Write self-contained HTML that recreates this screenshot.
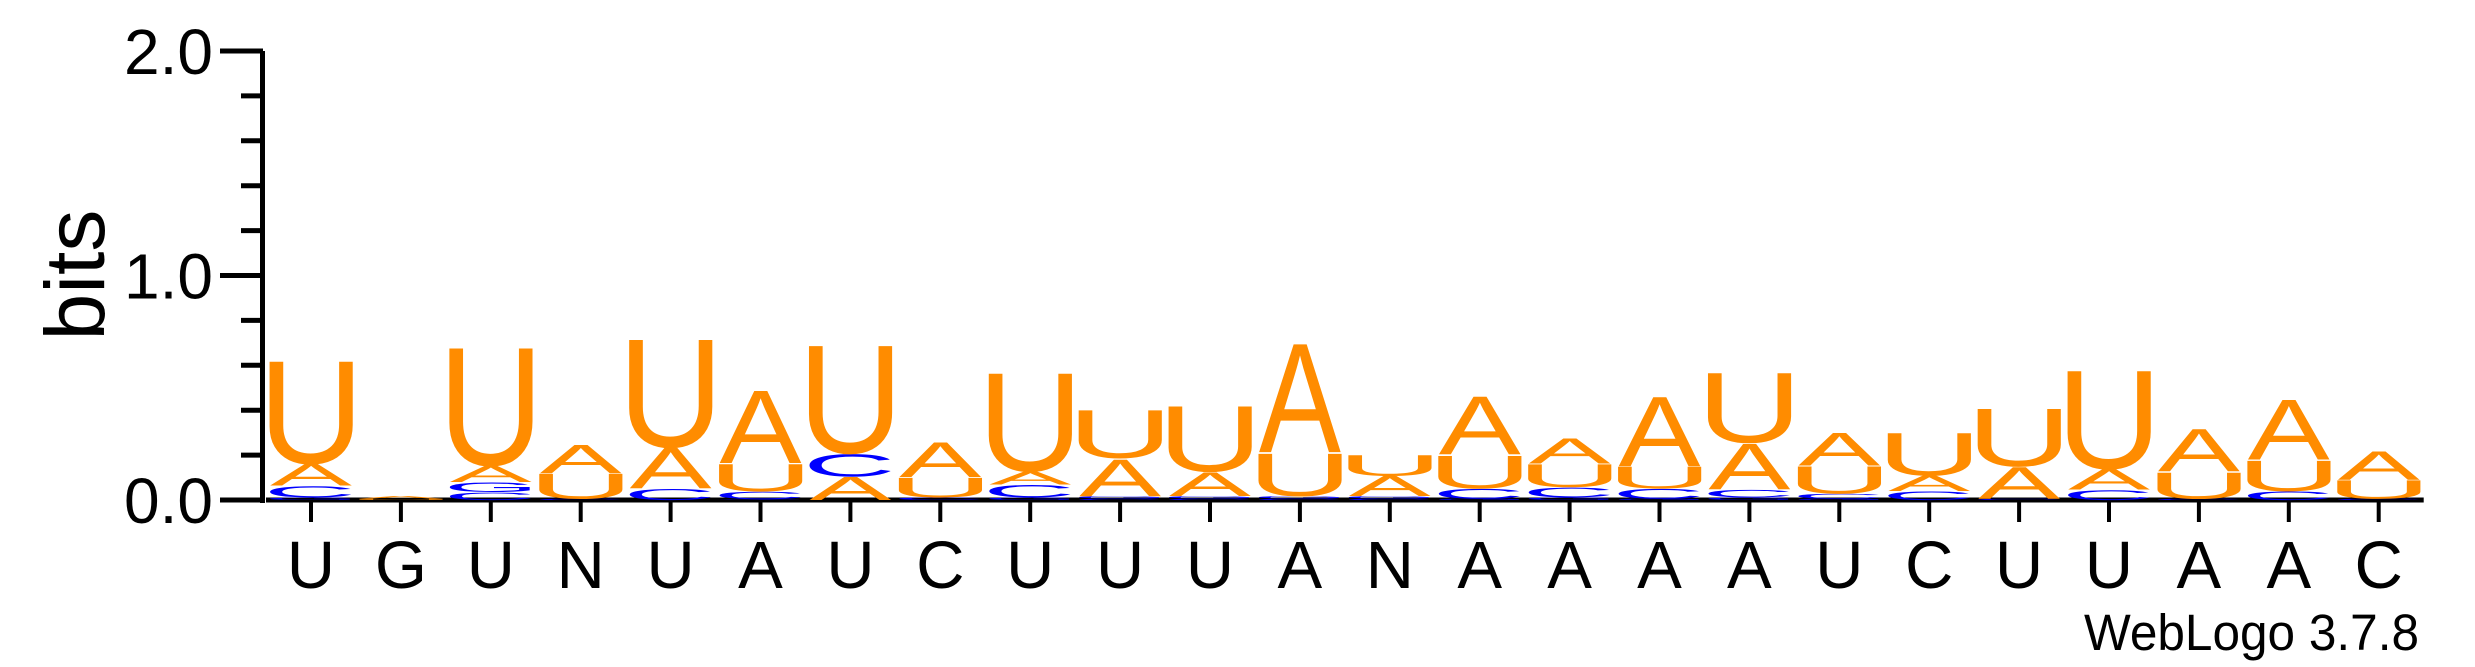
<!DOCTYPE html>
<html><head><meta charset="utf-8"><style>
html,body{margin:0;padding:0;background:#fff;}
svg{display:block;}
text{font-family:"Liberation Sans",sans-serif;}
</style></head><body>
<svg id="logo" width="2475" height="667" viewBox="0 0 2475 667" xmlns="http://www.w3.org/2000/svg">
<g id="axes"></g>
<g id="stacks"></g>
<text x="0" y="0" font-size="84" transform="translate(104,275) rotate(-90)" text-anchor="middle">bits</text>
<text x="2419" y="650" font-size="51" text-anchor="end" textLength="335" lengthAdjust="spacingAndGlyphs">WebLogo 3.7.8</text>
</svg>
<script>
const positions = ["U","G","U","N","U","A","U","C","U","U","U","A","N","A","A","A","A","U","C","U","U","A","A","C"];
const bitsA = [0.10,0.012,0.075,0.13,0.185,0.335,0.105,0.16,0.06,0.17,0.11,0.50,0.09,0.265,0.115,0.32,0.21,0.15,0.07,0.145,0.095,0.195,0.275,0.13];
const bitsC = [0.052,0,0.035,0.006,0.052,0.035,0.105,0.012,0.058,0.006,0.006,0.006,0.006,0.046,0.046,0.046,0.035,0.023,0.04,0.006,0.046,0.006,0.04,0.006];
const bitsG = [0.012,0,0.046,0,0,0.004,0,0,0.012,0.012,0.012,0.012,0.012,0.006,0.012,0.006,0.012,0.006,0,0,0,0,0,0];
const bitsU = [0.47,0.006,0.54,0.115,0.495,0.125,0.495,0.09,0.45,0.22,0.30,0.195,0.095,0.15,0.105,0.10,0.32,0.125,0.195,0.265,0.45,0.12,0.14,0.085];
const yTicks = [0,0.2,0.4,0.6,0.8,1.0,1.2,1.4,1.6,1.8,2.0];
const yLabels = ["0.0","1.0","2.0"];
const yLabelValues = [0,1,2];

const NS="http://www.w3.org/2000/svg";
const X0=311, DX=89.9, Y0=500, PXB=224.5, LW=82;
function xScale(i){return X0+i*DX;}
function yScale(v){return Y0-v*PXB;}
function mk(tag,attrs,parent){const e=document.createElementNS(NS,tag);for(const k in attrs)e.setAttribute(k,attrs[k]);parent.appendChild(e);return e;}
const axes=document.getElementById('axes');
const stacks=document.getElementById('stacks');

let l=mk('line',{x1:262.5,y1:yScale(2),x2:262.5,y2:Y0+3,stroke:'#000','stroke-width':5},axes);


l=mk('line',{x1:266,y1:Y0,x2:xScale(positions.length-1)+45,y2:Y0,stroke:'#000','stroke-width':5},axes);


yTicks.forEach(v=>{
  const major=Math.abs(v-Math.round(v))<1e-6;
  const t=mk('line',{x1:major?220:241,y1:yScale(v),x2:263,y2:yScale(v),stroke:'#000','stroke-width':5},axes);
  
  
});
yLabels.forEach((s,i)=>{
  const t=mk('text',{x:213,y:yScale(yLabelValues[i])+23,'font-size':64,'text-anchor':'end'},axes);
  t.textContent=s;
  
  
});
positions.forEach((p,i)=>{
  const t=mk('line',{x1:xScale(i),y1:Y0,x2:xScale(i),y2:522,stroke:'#000','stroke-width':4},axes);
  
  
  const lb=mk('text',{x:xScale(i),y:588,'font-size':67,'text-anchor':'middle'},axes);
  lb.textContent=p;
  
  
});
const glyph={A:{lsb:0,ink:0.667,adv:0.667,col:'#FF8C00',cap:0.716},
             U:{lsb:0.08,ink:0.56,adv:0.722,col:'#FF8C00',cap:0.716},
             C:{lsb:0.05,ink:0.64,adv:0.722,col:'#0000FF',cap:0.74},
             G:{lsb:0.05,ink:0.67,adv:0.778,col:'#0000FF',cap:0.74}};
positions.forEach((p,i)=>{
  const items=[['A',bitsA[i]],['C',bitsC[i]],['G',bitsG[i]],['U',bitsU[i]]].filter(d=>d[1]>0);
  items.sort((a,b)=>a[1]-b[1]);
  const g=mk('g',{},stacks);
  
  
  let base=0;
  items.forEach(([L,v])=>{
    const gl=glyph[L];
    const h=v*PXB;
    const yb=yScale(base);
    const fs=100;
    const sy=h/(gl.cap*fs);
    const tl=LW*gl.adv/gl.ink;
    const x=xScale(i)-LW/2-gl.lsb*LW/gl.ink;
    const t=mk('text',{x:0,y:0,'font-size':fs,fill:gl.col,textLength:tl,lengthAdjust:'spacingAndGlyphs',
      transform:`translate(${x},${yb}) scale(1,${sy})`},g);
    t.textContent=L;
    
    
    base+=v;
  });
});
</script>
</body></html>
